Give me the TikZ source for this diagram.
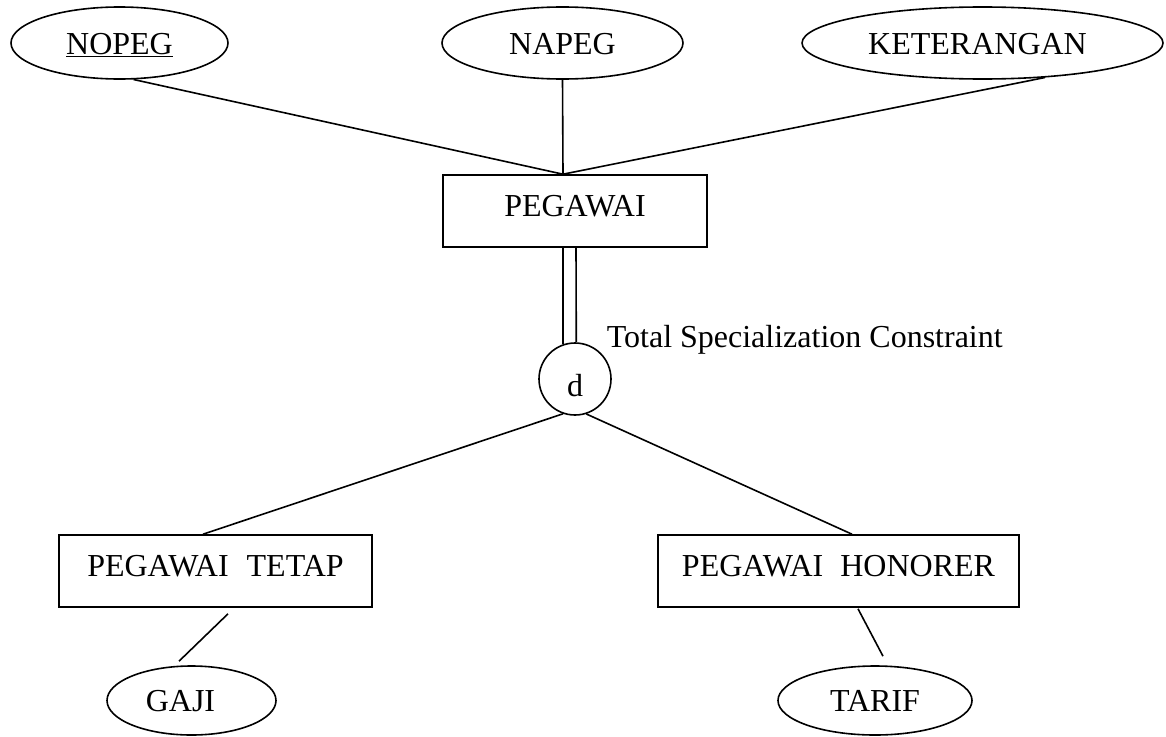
\documentclass[tikz,border=0pt]{standalone}
\usepackage{fontspec}
\setmainfont{Liberation Serif}
\usetikzlibrary{shapes.geometric,calc}
\begin{document}
\begin{tikzpicture}[x=1pt,y=-1pt, line width=1.6pt,
  every node/.style={font=\fontsize{32}{38}\selectfont, inner sep=0pt},
  attr/.style={draw, ellipse, minimum height=72pt, text height=22pt, text depth=0pt},
  ent/.style={draw, rectangle, minimum height=72pt, text height=22pt, text depth=12pt},
  disj/.style={draw, circle, minimum size=72pt, text height=34pt, text depth=0pt}]
\useasboundingbox (0,0) rectangle (1166,736);

% attributes of PEGAWAI
\node[attr, minimum width=217pt] (nopeg) at (119.5,43) {\underline{NOPEG}};
\node[attr, minimum width=241pt] (napeg) at (562.5,43) {NAPEG};
\node[attr, minimum width=361pt] (ket) at (982.5,43) {KETERANGAN\kern10pt};

% superclass and disjointness circle
\node[ent, minimum width=264pt] (peg) at (575,211) {PEGAWAI};
\node[disj] (d) at (575,379) {d};
\node[anchor=base west] (tsc) at (606,347) {Total Specialization Constraint};

% subclasses
\node[ent, minimum width=313pt] (tetap) at (215.5,571) {PEGAWAI\hspace{18pt}TETAP};
\node[ent, minimum width=361pt] (hon) at (838.5,571) {PEGAWAI\hspace{17pt}HONORER};

% subclass attributes
\node[attr, minimum width=169pt, minimum height=69pt] (gaji) at (191.5,700.5) {GAJI\kern22pt};
\node[attr, minimum width=194pt, minimum height=69pt] (tarif) at (875,700.5) {TARIF};

% attribute links
\coordinate (pj) at ([xshift=-12pt]peg.north);
\draw (nopeg.-69.3) -- (pj);
\draw (napeg.south) -- (pj);
\draw (ket.-29.3) -- (pj);

% total participation (double line)
\draw ([xshift=-12pt]peg.south) -- (d.109.4);
\draw ([xshift=1pt]peg.south) -- (d.88.4);

% specialization links
\draw (d.251.6) -- ([xshift=-12.5pt]tetap.north);
\draw (d.-72.5) -- ([xshift=13.5pt]hon.north);

% subclass attribute links
\draw ([xshift=12.5pt,yshift=-6pt]tetap.south) -- ([xshift=-12.5pt,yshift=4pt]gaji.north);
\draw ([xshift=19.5pt,yshift=-1pt]hon.south) -- ([xshift=8pt,yshift=9pt]tarif.north);
\end{tikzpicture}
\end{document}
